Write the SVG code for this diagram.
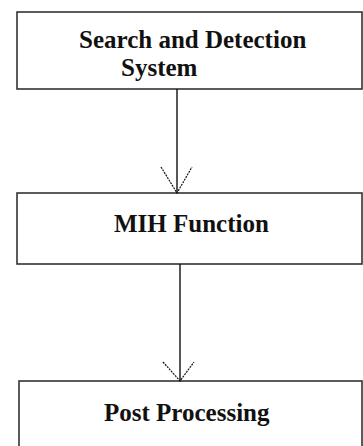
<svg xmlns="http://www.w3.org/2000/svg" width="363" height="446" viewBox="0 0 363 446">
  <defs>
    <style>
      .box { fill: #ffffff; stroke: #333333; stroke-width: 1.6; }
      .label { font-family: "Liberation Serif", "Times New Roman", serif; font-weight: bold; font-size: 25px; fill: #111111; }
      .link { fill: none; stroke: #111111; stroke-width: 1.4; }
      .head { fill: none; stroke: #111111; stroke-width: 1.2; stroke-dasharray: 2 1; }
    </style>
  </defs>
  <rect width="363" height="446" fill="#ffffff"/>

  <g id="search-detection">
    <rect class="box" x="17" y="12" width="345" height="77"/>
    <text class="label" x="79" y="48">Search and Detection</text>
    <text class="label" x="121" y="76">System</text>
  </g>

  <g id="mih-function">
    <rect class="box" x="17" y="193" width="345" height="71"/>
    <text class="label" x="114" y="232">MIH Function</text>
  </g>

  <g id="post-processing">
    <rect class="box" x="19" y="381" width="343" height="80"/>
    <text class="label" x="104" y="421">Post Processing</text>
  </g>

  <g id="connectors">
    <line class="link" x1="177" y1="89" x2="177" y2="193"/>
    <polyline class="head" points="161,167 177,193 192,167"/>
    <line class="link" x1="180" y1="264" x2="180" y2="381"/>
    <polyline class="head" points="163,362 180,381 194,362"/>
  </g>
</svg>
